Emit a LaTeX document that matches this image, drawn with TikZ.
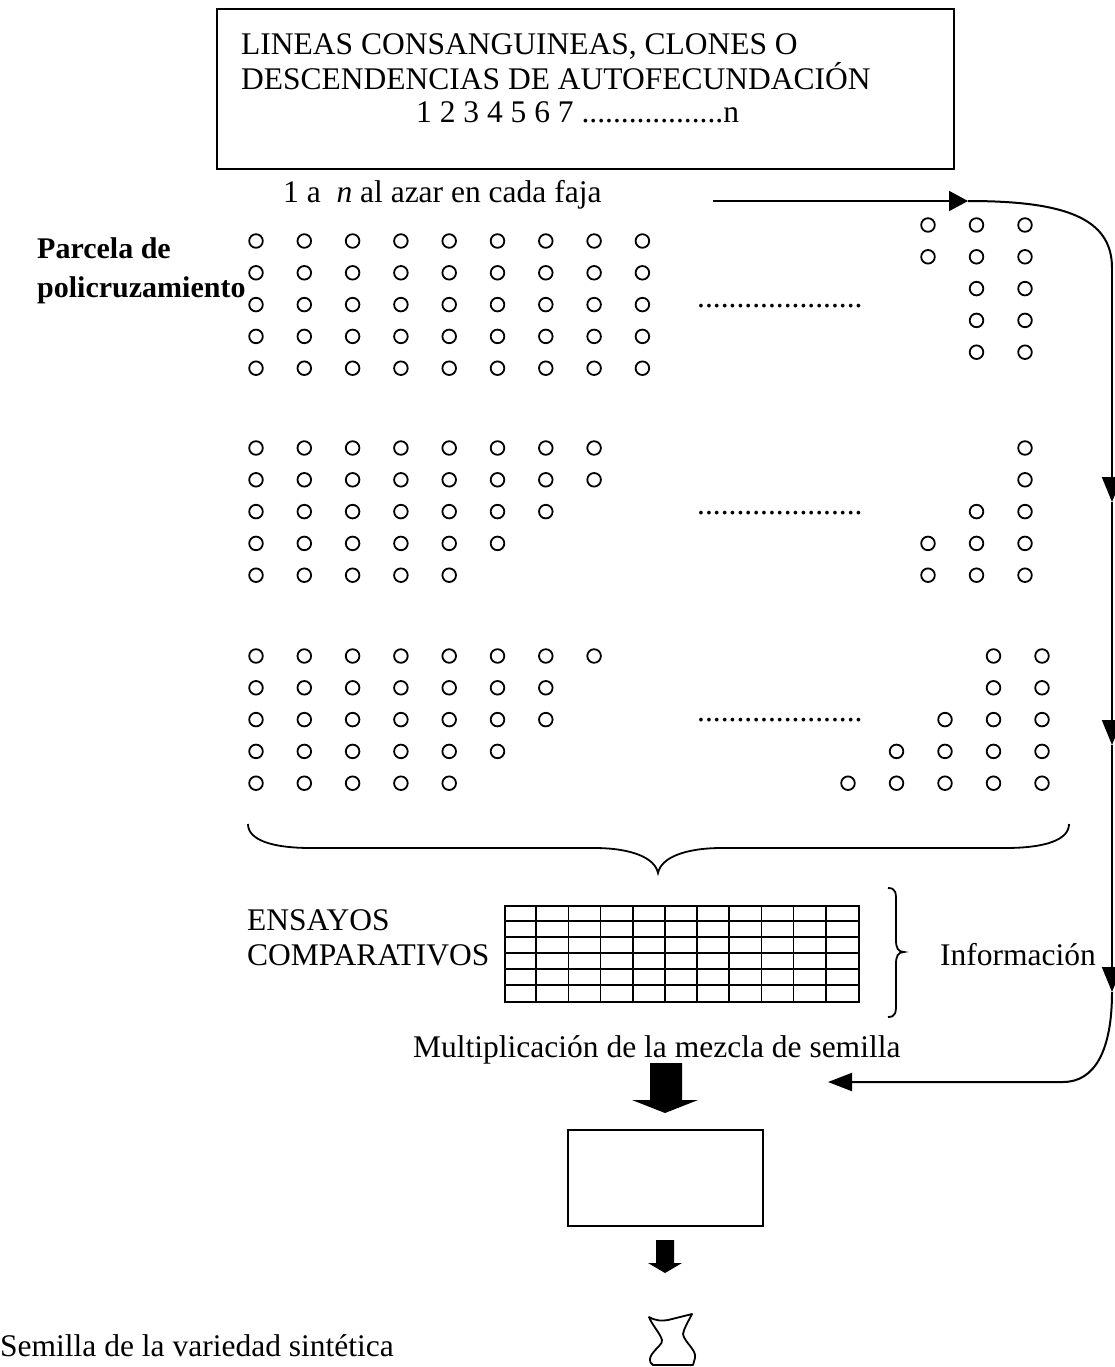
\documentclass[tikz,border=0pt]{standalone}
\usepackage{fontspec}
\setmainfont{Liberation Serif}
\usetikzlibrary{arrows.meta}
\begin{document}
\begin{tikzpicture}[x=1pt,y=-1pt,
  txt/.style={font=\fontsize{31.5}{36}\selectfont, inner sep=0pt, anchor=base west},
  btxt/.style={font=\fontsize{30}{36}\selectfont\bfseries, inner sep=0pt, anchor=base west},
  lw/.style={line width=2pt},
  ring/.style={line width=1.8pt},
  arr/.style={line width=2pt, -{Triangle[length=25pt,width=20pt]}},
]
\useasboundingbox (0,0) rectangle (1115,1367);
\clip (0,0) rectangle (1115,1367);

% top box
\node[draw, lw, minimum width=737pt, minimum height=160pt, inner sep=0pt, anchor=north west] (top) at (216,8) {};
\node[txt] (t1) at (241,55) {LINEAS CONSANGUINEAS, CLONES O};
\node[txt] (t2) at (241,90) {DESCENDENCIAS DE AUTOFECUNDACIÓN};
\node[txt] (t3) at (416,123) {1 2 3 4 5 6 7 ..................n};

\node[txt] (lab) at (283,203) {1 a\ \ \textit{n} al azar en cada faja};
\node[btxt] (p1) at (37,258) {Parcela de};
\node[btxt] (p2) at (37,297) {policruzamiento};

% circles, group 1
\foreach \i in {1,...,9} \foreach \j in {1,...,5}
  \draw[ring] ({256+48.3*(\i-1)},{241+31.8*(\j-1)}) circle (6.8pt);
\foreach \j/\s in {1/1,2/1,3/2,4/2,5/2} \foreach \i in {\s,...,3}
  \draw[ring] ({928+48.5*(\i-1)},{225+31.8*(\j-1)}) circle (6.8pt);
% group 2
\foreach \j/\n in {1/8,2/8,3/7,4/6,5/5} \foreach \i in {1,...,\n}
  \draw[ring] ({256+48.3*(\i-1)},{448+31.8*(\j-1)}) circle (6.8pt);
\foreach \j/\s in {1/3,2/3,3/2,4/1,5/1} \foreach \i in {\s,...,3}
  \draw[ring] ({928+48.5*(\i-1)},{448+31.8*(\j-1)}) circle (6.8pt);
% group 3
\foreach \j/\n in {1/8,2/7,3/7,4/6,5/5} \foreach \i in {1,...,\n}
  \draw[ring] ({256+48.3*(\i-1)},{656+31.8*(\j-1)}) circle (6.8pt);
\foreach \j/\s in {1/4,2/4,3/3,4/2,5/1} \foreach \i in {\s,...,5}
  \draw[ring] ({848+48.5*(\i-1)},{656+31.8*(\j-1)}) circle (6.8pt);

\node[txt] (d1) at (697,307) {.....................};
\node[txt] (d2) at (697,514) {.....................};
\node[txt] (d3) at (697,721) {.....................};

% big brace
\draw[line width=1.8pt] (248,824) .. controls (248,840) and (272,848) .. (311,848) -- (594,848)
  .. controls (632,848) and (655,858) .. (658,873)
  .. controls (661,858) and (684,848) .. (722,848) -- (1005,848)
  .. controls (1045,848) and (1069,840) .. (1069,824);

% trials
\node[txt] (e1) at (247,930) {ENSAYOS};
\node[txt] (e2) at (247,965) {COMPARATIVOS};
\node[draw, line width=1.6pt, minimum width=354pt, minimum height=96pt, inner sep=0pt, anchor=north west] (tab) at (504,905) {};
\foreach \k in {1,...,10} \draw[line width=1.6pt] ({504+354/11*\k},905) -- ({504+354/11*\k},1001);
\foreach \k in {1,...,5} \draw[line width=1.6pt] (504,{905+16*\k}) -- (858,{905+16*\k});

\draw[line width=1.8pt] (888,888) .. controls (896,888) and (896,893) .. (896,902) -- (896,940)
  .. controls (896,948) and (898,952) .. (904,952)
  .. controls (898,952) and (896,956) .. (896,964) -- (896,1003)
  .. controls (896,1012) and (896,1017) .. (888,1017);
\node[txt] (inf) at (940,965) {Información};

\node[txt] (mul) at (413,1057) {Multiplicación de la mezcla de semilla};

% feedback connector
\coordinate (a0) at (713,201);
\coordinate (a1) at (968,201);
\coordinate (c1) at (1112,268);
\coordinate (v1) at (1112,502);
\coordinate (v2) at (1112,745);
\coordinate (v3) at (1112,992);
\coordinate (c2) at (1063,1082);
\coordinate (b1) at (828,1082);
\draw[line width=2pt, -{Triangle[length=19pt,width=20pt]}] (a0) -- (a1);
\draw[lw] (a1) .. controls (1065,201) and (1112,218) .. (c1);
\draw[arr] (c1) -- (v1);
\draw[arr] (v1) -- (v2);
\draw[arr] (v2) -- (v3);
\draw[line width=2pt, -{Triangle[length=24pt,width=18pt]}] (v3) .. controls (1112,1050) and (1095,1082) .. (c2) -- (b1);

% block arrows and box
\fill (650,1063) -- (682,1063) -- (682,1100) -- (698,1100) -- (665,1113) -- (632,1100) -- (650,1100) -- cycle;
\node[draw, lw, minimum width=195pt, minimum height=96pt, inner sep=0pt, anchor=north west] (mbox) at (567,1129) {};
\fill (656,1240) -- (674,1240) -- (674,1263) -- (682,1263) -- (665,1273) -- (648,1263) -- (656,1263) -- cycle;

% seed bag
\draw[line width=1.8pt, line join=round] (649,1317) .. controls (656,1321) and (662,1321) .. (668,1320) -- (692,1314)
  .. controls (688,1322) and (684,1328) .. (683,1334)
  .. controls (684,1342) and (697,1350) .. (695,1358) -- (693,1365) -- (653,1365)
  .. controls (648,1362) and (650,1357) .. (652,1354)
  .. controls (656,1348) and (663,1344) .. (662,1340)
  .. controls (660,1333) and (652,1325) .. cycle;

\node[txt] (sem) at (0,1356) {Semilla de la variedad sintética};
\end{tikzpicture}
\end{document}
